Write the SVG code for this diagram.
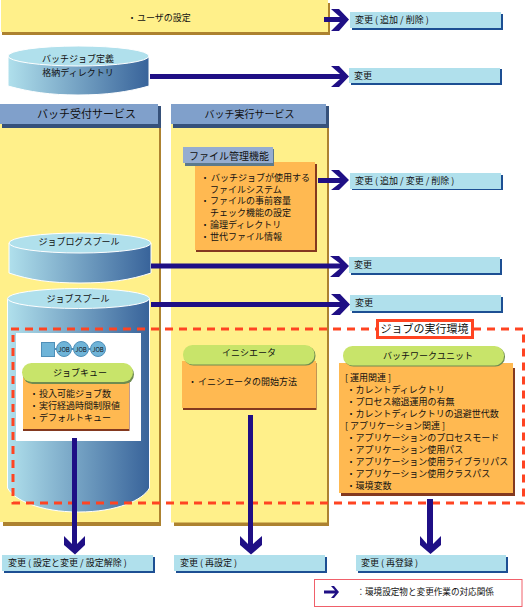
<svg xmlns="http://www.w3.org/2000/svg" width="526" height="607" viewBox="0 0 526 607">
<style>
text{font-family:"Noto Sans CJK JP","Liberation Sans",sans-serif;font-size:9px;fill:#111}
.c{text-anchor:middle}
.y{fill:#fff08a}
.ys{fill:#ad8230}
.o{fill:#ffb951}
.os{fill:#84391f}
.b{fill:#b0e0ec}
.bs{fill:#1d4f93}
.h{fill:#80a0cb}
.hs{fill:#36517a}
.g{fill:#c8e46a}
.gs{fill:#6f8c50}
.top{fill:#b0e0ec;stroke:#fff;stroke-width:1}
.arrow{fill:#1f0f85}
.dash{fill:none;stroke:#ff4422;stroke-width:3;stroke-dasharray:8 6}
.job{font-size:6px;text-anchor:middle}
.jc{fill:#6fb4d8;stroke:#4f8fb8}
</style>
<defs>
<linearGradient id="cyl" x1="0" x2="1" y1="0" y2="0">
<stop offset="0" stop-color="#b0e0ec"/>
<stop offset="1" stop-color="#38639a"/>
</linearGradient>
</defs>

<g id="user-setting">
<rect class="ys" x="2" y="3" width="328" height="32"/>
<rect class="y" x="1" y="0" width="327" height="32"/>
<text x="127.500" y="21">・<tspan x="137">ユーザの設定</tspan></text>
</g>

<g id="panel-accept">
<rect class="ys" x="3" y="110" width="158" height="416"/>
<rect class="y" x="0" y="124" width="159" height="398"/>
<rect class="hs" x="2" y="106" width="159" height="22"/>
<rect class="h" x="0" y="104" width="158" height="20"/>
<text class="c" style="font-size:11px" x="86.500" y="118">バッチ受付サービス</text>
</g>

<g id="panel-exec">
<rect class="ys" x="174" y="110" width="155" height="416"/>
<rect class="y" x="171" y="124" width="156" height="398.500"/>
<rect class="hs" x="173" y="106" width="156" height="22"/>
<rect class="h" x="171" y="104" width="155" height="20"/>
<text class="c" style="font-size:10px" x="249.500" y="118">バッチ実行サービス</text>
</g>

<g id="batch-def-dir">
<path d="M8,57 V86 C30,92 50,95 78,95 C106,95 128,92 149,86 V57 Z" fill="url(#cyl)" stroke="#fff"/>
<ellipse class="top" cx="78.500" cy="56" rx="70.500" ry="10"/>
<text class="c" x="78" y="62">バッチジョブ定義</text>
<text class="c" x="78" y="76">格納ディレクトリ</text>
</g>

<g id="file-mgmt">
<rect class="os" x="196" y="164" width="121" height="88"/>
<rect class="o" x="195" y="162" width="120" height="88"/>
<rect fill="#5d7a8c" x="185" y="149" width="89" height="17"/>
<rect fill="#96add0" x="183" y="147" width="90" height="16"/>
<text style="font-size:10px" x="189" y="159.500">ファイル管理機能</text>
<text x="200.500" y="181">・<tspan x="211">バッチジョブが使用する</tspan></text>
<text x="210" y="192.500">ファイルシステム</text>
<text x="200.500" y="204">・<tspan x="210">ファイルの事前容量</tspan></text>
<text x="210" y="216">チェック機能の設定</text>
<text x="200.500" y="228">・<tspan x="210">論理ディレクトリ</tspan></text>
<text x="200.500" y="240">・<tspan x="210">世代ファイル情報</tspan></text>
</g>

<g id="job-log-spool">
<path d="M9,243 V273 C30,280 50,283 80,283 C110,283 130,280 151,273 V243 Z" fill="url(#cyl)" stroke="#fff"/>
<ellipse class="top" cx="80" cy="243" rx="71" ry="10"/>
<text class="c" x="79" y="245">ジョブログスプール</text>
</g>

<g id="job-spool">
<path d="M7.500,299 V488 C14,500 40,512 78.500,512 C117,512 143,500 149.500,488 V299 Z" fill="url(#cyl)" stroke="#fff"/>
<ellipse class="top" cx="78.500" cy="298.500" rx="71" ry="10"/>
<text class="c" x="78" y="302">ジョブスプール</text>
</g>

<g id="job-queue">
<rect fill="#fff" x="16" y="333" width="125" height="108"/>
<path d="M55,349 H98" stroke="#4f8fb8" stroke-width="2"/>
<rect class="jc" x="41.500" y="342.500" width="13" height="14"/>
<circle class="jc" cx="64" cy="349" r="7.500"/>
<circle class="jc" cx="81" cy="349" r="7.500"/>
<circle class="jc" cx="98" cy="349" r="7.500"/>
<text class="job" x="64" y="351.500">JOB</text>
<text class="job" x="81" y="351.500">JOB</text>
<text class="job" x="98" y="351.500">JOB</text>
<rect class="os" x="23" y="376" width="106.500" height="55"/>
<rect class="o" x="23" y="376" width="106" height="53"/>
<rect class="gs" x="23" y="365" width="111" height="19" rx="9.500"/>
<rect class="g" x="22" y="363" width="111" height="19" rx="9.500"/>
<text class="c" x="80" y="375.500">ジョブキュー</text>
<text x="29.500" y="397">・<tspan x="39">投入可能ジョブ数</tspan></text>
<text x="29.500" y="409">・<tspan x="39">実行経過時間制限値</tspan></text>
<text x="29.500" y="421">・<tspan x="39">デフォルトキュー</tspan></text>
</g>

<g id="initiator">
<rect class="os" x="183" y="363" width="133.500" height="47"/>
<rect class="o" x="182" y="361" width="134" height="47"/>
<rect class="gs" x="184" y="346" width="131.500" height="19.500" rx="9.500"/>
<rect class="g" x="183" y="345" width="131.500" height="19.500" rx="9.500"/>
<text class="c" x="249" y="356">イニシエータ</text>
<text x="188" y="385">・<tspan x="198">イニシエータの開始方法</tspan></text>
</g>

<g id="batch-work-unit">
<rect class="os" x="341" y="368" width="174" height="128"/>
<rect class="o" x="339" y="363" width="174" height="130"/>
<rect class="gs" x="344" y="347" width="161" height="19.500" rx="9.500"/>
<rect class="g" x="343" y="346" width="161" height="19.500" rx="9.500"/>
<text class="c" x="428" y="358.500">バッチワークユニット</text>
<text x="345" y="381">[ 運用関連 ]</text>
<text x="346.500" y="393">・<tspan x="355.500">カレントディレクトリ</tspan></text>
<text x="346.500" y="405">・<tspan x="355.500">プロセス縮退運用の有無</tspan></text>
<text x="346.500" y="417">・<tspan x="355.500">カレントディレクトリの退避世代数</tspan></text>
<text x="345" y="429">[ アプリケーション関連 ]</text>
<text x="346.500" y="441">・<tspan x="355.500">アプリケーションのプロセスモード</tspan></text>
<text x="346.500" y="453">・<tspan x="355.500">アプリケーション使用パス</tspan></text>
<text x="346.500" y="465">・<tspan x="355.500">アプリケーション使用ライブラリパス</tspan></text>
<text x="346.500" y="477">・<tspan x="355.500">アプリケーション使用クラスパス</tspan></text>
<text x="346.500" y="489">・<tspan x="355.500">環境変数</tspan></text>
</g>

<g id="job-env">
<path class="dash" d="M11,329 H523.500 V503 H13 V335"/>
<rect x="377.500" y="320.500" width="95" height="17" fill="#fff" stroke="#ff4422" stroke-width="3"/>
<text class="c" style="font-size:11px" x="424.500" y="333">ジョブの実行環境</text>
</g>

<g id="connectors">
<path class="arrow" d="M324,17 H340 L331,9 H339 L349,19.500 L339,31 H331 L340,22 H324 Z"/>
<path class="arrow" d="M150,74 H340 L331,66 H339 L349,76.500 L339,87 H331 L340,79 H150 Z"/>
<path class="arrow" d="M318,178 H340 L331,170 H339 L349,180 L339,190 H331 L340,183 H318 Z"/>
<path class="arrow" d="M151,263.500 H340 L330,256 H339 L349,266 L339,277 H330 L340,268.500 H151 Z"/>
<path class="arrow" d="M151,302 H340 L331,294 H340 L350,304.500 L340,315 H331 L340,307 H151 Z"/>
<path class="arrow" d="M72,438 H77 V544 L85,536 V545 L75,554.500 L64,545 V536 L72,544 Z"/>
<path class="arrow" d="M248,415 H253 V544 L262,536 V545 L251,554.500 L240,545 V536 L248,544 Z"/>
<path class="arrow" d="M427,499 H433 V544 L441,536 V545 L430.500,554 L420,545 V536 L427,544 Z"/>
</g>

<g id="change-1">
<rect class="bs" x="352" y="14" width="151" height="16"/>
<rect class="b" x="350" y="12" width="151" height="16"/>
<text x="355" y="23">変更 ( 追加 / 削除 )</text>
</g>
<g id="change-2">
<rect class="bs" x="351" y="69" width="151" height="16"/>
<rect class="b" x="349" y="68" width="151" height="15"/>
<text x="354" y="79">変更</text>
</g>
<g id="change-3">
<rect class="bs" x="352" y="175" width="151" height="15"/>
<rect class="b" x="350" y="173" width="151" height="16"/>
<text x="355" y="184">変更 ( 追加 / 変更 / 削除 )</text>
</g>
<g id="change-4">
<rect class="bs" x="351" y="259" width="151" height="16"/>
<rect class="b" x="349" y="257" width="151" height="16"/>
<text x="354" y="268">変更</text>
</g>
<g id="change-5">
<rect class="bs" x="352" y="297" width="151" height="16"/>
<rect class="b" x="350" y="295" width="151" height="16"/>
<text x="355" y="306">変更</text>
</g>
<g id="change-6">
<rect class="bs" x="4" y="557" width="151" height="16"/>
<rect class="b" x="2" y="555" width="151" height="16"/>
<text x="8" y="566">変更 ( 設定と変更 / 設定解除 )</text>
</g>
<g id="change-7">
<rect class="bs" x="176" y="557" width="151" height="16"/>
<rect class="b" x="174" y="555" width="151" height="16"/>
<text x="180" y="566">変更 ( 再設定 )</text>
</g>
<g id="change-8">
<rect class="bs" x="358" y="557" width="150" height="16"/>
<rect class="b" x="356" y="555" width="150" height="16"/>
<text x="361" y="566">変更 ( 再登録 )</text>
</g>

<g id="legend">
<rect x="314.500" y="579.500" width="207.500" height="27" fill="#fff" stroke="#f0606a" stroke-width="1"/>
<path class="arrow" d="M324,590.500 H335 L331,586 H334 L339,592 L334,598 H331 L335,593.500 H324 Z"/>
<text style="font-size:8.600px" x="356.400" y="595">：環境設定物と変更作業の対応関係</text>
</g>
</svg>
